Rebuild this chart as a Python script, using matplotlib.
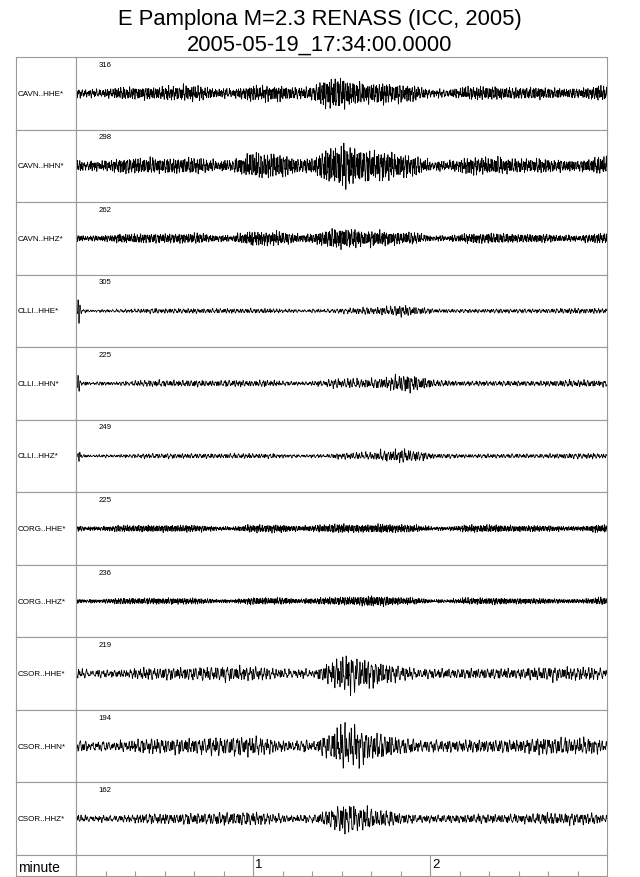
import numpy as np
import matplotlib.pyplot as plt

plt.rcParams['font.family'] = ['Liberation Sans', 'DejaVu Sans']

title = "E Pamplona M=2.3 RENASS (ICC, 2005)"
subtitle = "2005-05-19_17:34:00.0000"

channels = ["CAVN..HHE*", "CAVN..HHN*", "CAVN..HHZ*",
            "CLLI..HHE*", "CLLI..HHN*", "CLLI..HHZ*",
            "CORG..HHE*", "CORG..HHZ*",
            "CSOR..HHE*", "CSOR..HHN*", "CSOR..HHZ*"]
peaks = [316, 298, 262, 305, 225, 249, 225, 236, 219, 194, 162]

# envelope of each trace, read every 5 s (0..180 s), as a fraction of half the panel height
env_t = np.arange(0, 181, 5)
env_cavn_hhe = [.20, .20, .20, .20, .20, .20, .21, .24, .25, .25, .24, .24, .22, .22, .22, .23, .28, .62, .60,
                .42, .36, .30, .26, .24, .22, .21, .21, .20, .20, .20, .20, .21, .21, .23, .23, .22, .21]
env_cavn_hhn = [.25, .25, .25, .25, .25, .25, .25, .25, .26, .27, .28, .35, .38, .36, .31, .30, .32, .72, .82,
                .68, .52, .42, .34, .30, .28, .27, .26, .26, .25, .25, .25, .25, .25, .26, .26, .25, .25]
env_cavn_hhz = [.15, .15, .15, .15, .15, .15, .15, .16, .17, .17, .17, .20, .21, .20, .18, .18, .20, .36, .40,
                .32, .26, .21, .18, .17, .16, .16, .15, .15, .15, .15, .15, .15, .15, .15, .15, .15, .15]
env_clli_hhe = [.09, .08, .08, .08, .08, .08, .08, .08, .08, .08, .08, .08, .08, .08, .08, .08, .09, .10, .10,
                .09, .10, .13, .16, .14, .11, .09, .08, .08, .08, .08, .08, .08, .08, .08, .08, .08, .08]
env_clli_hhn = [.11, .10, .10, .10, .10, .11, .10, .10, .11, .10, .10, .11, .10, .11, .10, .10, .12, .22, .20,
                .13, .13, .18, .25, .26, .20, .13, .11, .10, .10, .10, .10, .10, .10, .10, .10, .10, .10]
env_clli_hhz = [.09, .08, .08, .08, .08, .08, .08, .08, .08, .08, .08, .08, .08, .08, .08, .08, .09, .12, .12,
                .10, .11, .16, .20, .19, .14, .10, .09, .08, .08, .08, .08, .08, .08, .08, .08, .08, .08]
env_corg_hhe = [.11, .11, .11, .11, .11, .11, .11, .11, .11, .11, .11, .11, .11, .11, .11, .11, .13, .16, .17,
                .15, .14, .13, .11, .11, .11, .11, .11, .11, .11, .11, .11, .11, .11, .11, .11, .11, .11]
env_corg_hhz = [.10, .10, .10, .10, .10, .10, .10, .10, .10, .10, .10, .10, .10, .10, .10, .10, .12, .15, .16,
                .17, .19, .13, .11, .10, .10, .10, .10, .10, .10, .10, .10, .10, .10, .10, .10, .10, .10]
env_csor_hhe = [.20, .20, .21, .20, .20, .20, .20, .21, .21, .22, .24, .24, .23, .22, .22, .22, .24, .42, .55,
                .50, .42, .30, .24, .22, .21, .21, .20, .20, .20, .20, .20, .20, .20, .20, .20, .20, .20]
env_csor_hhn = [.25, .25, .25, .25, .25, .25, .25, .25, .26, .27, .30, .32, .32, .30, .28, .28, .30, .50, .66,
                .58, .42, .33, .29, .27, .26, .25, .25, .25, .25, .25, .25, .25, .25, .25, .25, .25, .25]
env_csor_hhz = [.17, .17, .17, .17, .17, .17, .17, .17, .18, .19, .21, .22, .22, .21, .19, .19, .21, .36, .45,
                .40, .30, .23, .20, .18, .17, .17, .17, .17, .17, .17, .17, .17, .17, .17, .17, .17, .17]
envelopes = [env_cavn_hhe, env_cavn_hhn, env_cavn_hhz, env_clli_hhe, env_clli_hhn, env_clli_hhz,
             env_corg_hhe, env_corg_hhz, env_csor_hhe, env_csor_hhn, env_csor_hhz]

# transient at the very start of the CLLI traces
start_kick = [0, 0, 0, .32, .28, .12, 0, 0, 0, 0, 0]

# frequency band of the wiggles per station (Hz, as seen on this time scale)
bands = {"CAVN": (0.8, 4.0), "CLLI": (0.6, 2.6), "CORG": (1.0, 4.2), "CSOR": (0.5, 2.6)}


def carrier(t, lo, hi, seed):
    # deterministic noise-like wiggle: sum of incommensurate sines
    s = np.zeros_like(t)
    for k in range(1, 90):
        f = lo + (hi - lo) * ((k * 0.6180339887 + seed * 0.137) % 1.0)
        ph = (k * k * 2.39996 + seed * 1.7) % (2 * np.pi)
        s += np.sin(2 * np.pi * f * t + ph) / np.sqrt(f)
    return s / s.std()


W, H = 640, 878
fig = plt.figure(figsize=(W / 100, H / 100), dpi=100)

x0, xl, x1 = 16, 76, 607
top, bot_row, bottom = 58, 856, 877
ph = (bot_row - top) / len(channels)
grey = '#9a9a9a'


def box(x, y, w, h):
    return [x / W, 1 - (y + h) / H, w / W, h / H]


fig.text(0.5, 1 - 20 / H, title, ha='center', va='center', fontsize=15.8)
fig.text(0.5, 1 - 45 / H, subtitle, ha='center', va='center', fontsize=15.8)

t = np.linspace(0, 180, 9000)
for i, ch in enumerate(channels):
    y = top + i * ph
    lab = fig.add_axes(box(x0, y, xl - x0, ph))
    lab.set_xticks([])
    lab.set_yticks([])
    for sp in lab.spines.values():
        sp.set_color(grey)
        sp.set_linewidth(0.8)
    lab.text(0.02, 0.5, ch, transform=lab.transAxes, ha='left', va='center', fontsize=5.8)

    ax = fig.add_axes(box(xl, y, x1 - xl, ph))
    lo, hi = bands[ch[:4]]
    env = np.interp(t, env_t, envelopes[i])
    sig = env * carrier(t, lo, hi, i) / 2.6
    sig += start_kick[i] * np.exp(-((t - 0.9) / 0.5) ** 2) * np.sin(2 * np.pi * 1.4 * (t - 0.5))
    ax.plot(t, sig, color='black', lw=0.55)
    ax.set_xlim(0, 180)
    ax.set_ylim(-1, 1)
    ax.set_xticks([])
    ax.set_yticks([])
    for sp in ax.spines.values():
        sp.set_color(grey)
        sp.set_linewidth(0.8)
    ax.text(0.043, 0.9, str(peaks[i]), transform=ax.transAxes, ha='left', va='center', fontsize=5.6)

# time axis row
lab = fig.add_axes(box(x0, bot_row, xl - x0, bottom - bot_row))
lab.set_xticks([])
lab.set_yticks([])
for sp in lab.spines.values():
    sp.set_color(grey)
    sp.set_linewidth(0.8)
lab.text(0.03, 0.42, "minute", transform=lab.transAxes, ha='left', va='center', fontsize=10)

tax = fig.add_axes(box(xl, bot_row, x1 - xl, bottom - bot_row))
tax.set_xlim(0, 3)
tax.set_ylim(0, 1)
tax.set_yticks([])
tax.set_xticks([])
tax.set_xticks(np.arange(1, 18) / 6, minor=True)
tax.tick_params(axis='x', which='minor', direction='in', length=3.5, color=grey, width=0.8)
for sp in tax.spines.values():
    sp.set_color(grey)
    sp.set_linewidth(0.8)
for m in [1, 2]:
    tax.axvline(m, color=grey, lw=0.8)
    tax.text(m + 0.012, 0.88, str(m), ha='left', va='top', fontsize=9.5)

fig.savefig('out.png', dpi=100)
